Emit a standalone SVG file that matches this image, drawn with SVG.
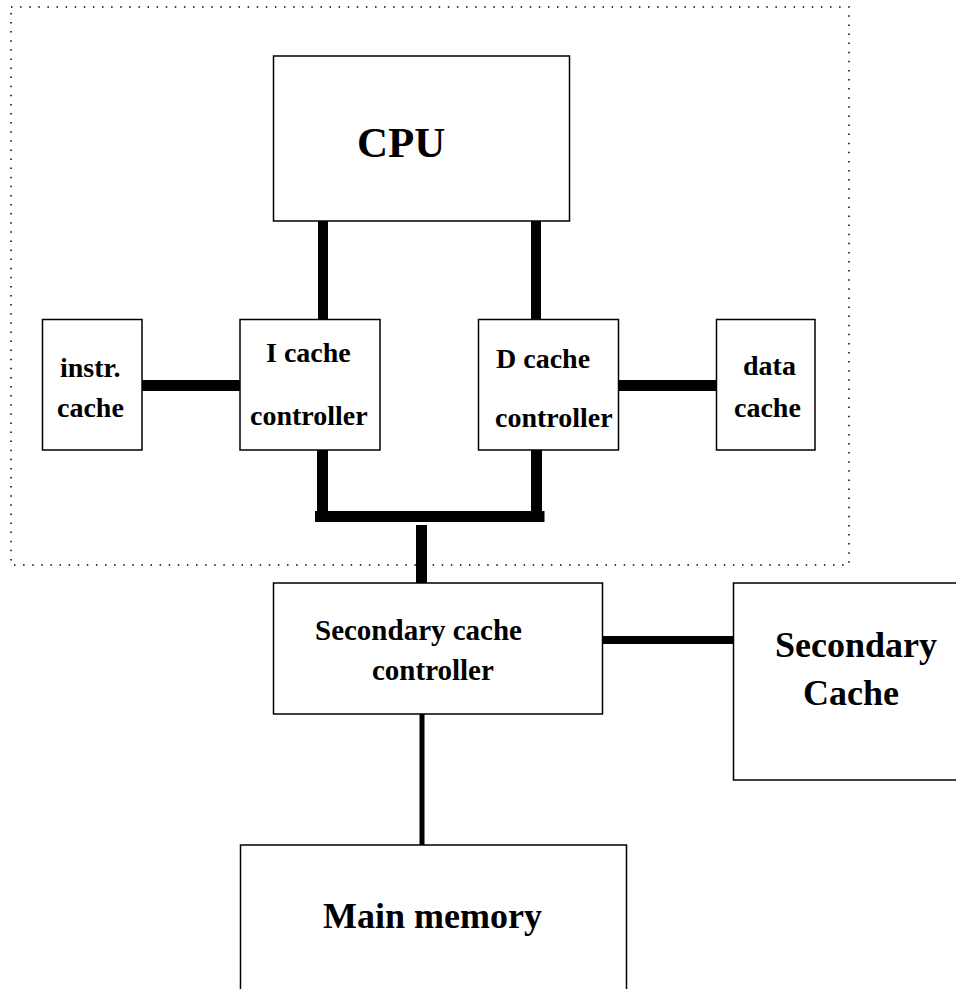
<svg xmlns="http://www.w3.org/2000/svg" width="956" height="989" viewBox="0 0 956 989">
<style>
.box{fill:#fff;stroke:#000;stroke-width:1.5}
.t{font-family:"Liberation Serif","Times New Roman",serif;font-weight:bold;fill:#000}
.c{stroke:#000;fill:none}
.dot{fill:none;stroke:#000;stroke-width:1.5;stroke-dasharray:1.5 7.6}
</style>
<rect x="0" y="0" width="956" height="989" fill="#fff"/>
<rect id="boundary" class="dot" x="11" y="7" width="838" height="558"/>
<g id="connectors">
<line class="c" x1="323" y1="221" x2="323" y2="319" stroke-width="10"/>
<line class="c" x1="536" y1="221" x2="536" y2="319" stroke-width="10"/>
<line class="c" x1="142" y1="385.5" x2="240" y2="385.5" stroke-width="11"/>
<line class="c" x1="618" y1="385.5" x2="717" y2="385.5" stroke-width="11"/>
<line class="c" x1="322.5" y1="450" x2="322.5" y2="516" stroke-width="11"/>
<line class="c" x1="536.5" y1="450" x2="536.5" y2="516" stroke-width="11"/>
<line class="c" x1="315" y1="516.5" x2="544.5" y2="516.5" stroke-width="11"/>
<line class="c" x1="421.5" y1="525" x2="421.5" y2="583" stroke-width="11"/>
<line class="c" x1="602" y1="640" x2="733" y2="640" stroke-width="8"/>
<line class="c" x1="422" y1="714" x2="422" y2="845" stroke-width="5"/>
</g>
<g id="cpu">
<rect class="box" x="273.5" y="56" width="296" height="165"/>
<text class="t" x="357" y="157" font-size="43">CPU</text>
</g>
<g id="instr-cache">
<rect class="box" x="42.5" y="319.5" width="99.5" height="130.5"/>
<text class="t" x="60" y="377" font-size="28">instr.</text>
<text class="t" x="57" y="417" font-size="28">cache</text>
</g>
<g id="i-cache-controller">
<rect class="box" x="240" y="319.5" width="140" height="130.5"/>
<text class="t" x="266" y="362" font-size="28">I cache</text>
<text class="t" x="250" y="425" font-size="28">controller</text>
</g>
<g id="d-cache-controller">
<rect class="box" x="478.5" y="319.5" width="140" height="130.5"/>
<text class="t" x="496" y="368" font-size="28">D cache</text>
<text class="t" x="495" y="427" font-size="28">controller</text>
</g>
<g id="data-cache">
<rect class="box" x="716.5" y="319.5" width="98.5" height="130.5"/>
<text class="t" x="743" y="375" font-size="28">data</text>
<text class="t" x="734" y="417" font-size="28">cache</text>
</g>
<g id="secondary-cache-controller">
<rect class="box" x="273.5" y="583" width="329" height="131"/>
<text class="t" x="315" y="640" font-size="29">Secondary cache</text>
<text class="t" x="372" y="680" font-size="29">controller</text>
</g>
<g id="secondary-cache">
<rect class="box" x="733.5" y="583" width="240" height="197"/>
<text class="t" x="775" y="657" font-size="36">Secondary</text>
<text class="t" x="803" y="705" font-size="36">Cache</text>
</g>
<g id="main-memory">
<rect class="box" x="240.5" y="845" width="386" height="160"/>
<text class="t" x="323" y="928" font-size="36">Main memory</text>
</g>
</svg>
